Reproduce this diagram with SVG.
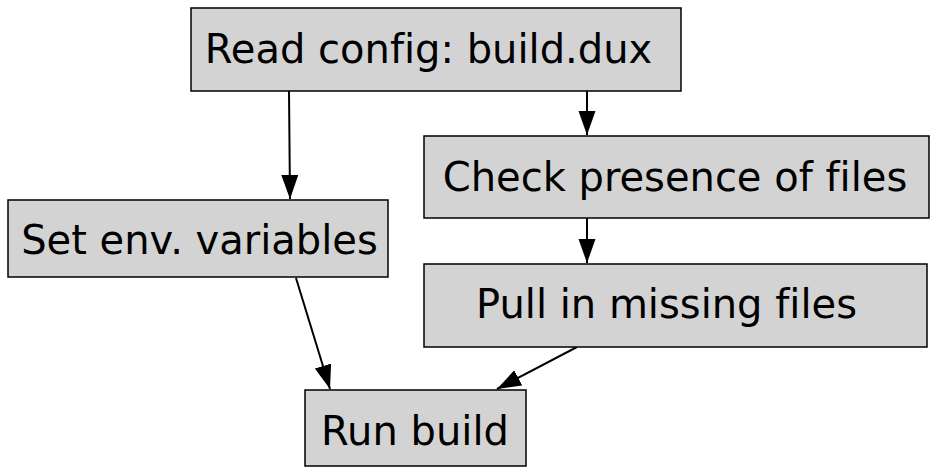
<svg xmlns="http://www.w3.org/2000/svg" width="937" height="474" viewBox="0 0 937 474">
<style>
.box{fill:#d3d3d3;stroke:#000;stroke-width:1.5}
.lbl{font-family:"DejaVu Sans",sans-serif;font-size:40px;fill:#000;text-anchor:middle;font-variant-ligatures:none;font-feature-settings:"liga" 0}
.edge{fill:none;stroke:#000;stroke-width:2}
</style>
<defs>
<marker id="ah" markerUnits="userSpaceOnUse" markerWidth="26" markerHeight="18" refX="24" refY="8.5" orient="auto">
<path d="M0,0 L24,8.5 L0,17 Z" fill="#000"/>
</marker>
</defs>
<rect width="937" height="474" fill="#fff"/>
<g id="edges">
<path class="edge" d="M289,91 L290,199" marker-end="url(#ah)"/>
<path class="edge" d="M587,91 L587,135" marker-end="url(#ah)"/>
<path class="edge" d="M587,218 L587,263" marker-end="url(#ah)"/>
<path class="edge" d="M296,278 L330,389" marker-end="url(#ah)"/>
<path class="edge" d="M577,347 L497,389" marker-end="url(#ah)"/>
</g>
<g id="read">
<rect class="box" x="191" y="8" width="490" height="83"/>
<text class="lbl" x="428.5" y="63">Read config: build.dux</text>
</g>
<g id="check">
<rect class="box" x="424" y="136" width="505" height="82"/>
<text class="lbl" x="675" y="191">Check presence of files</text>
</g>
<g id="setenv">
<rect class="box" x="8" y="200" width="380" height="77"/>
<text class="lbl" x="199.5" y="254">Set env. variables</text>
</g>
<g id="pull">
<rect class="box" x="424" y="264" width="503" height="83"/>
<text class="lbl" x="666.5" y="318">Pull in missing files</text>
</g>
<g id="run">
<rect class="box" x="305" y="390" width="221" height="76"/>
<text class="lbl" x="415" y="445">Run build</text>
</g>
</svg>
